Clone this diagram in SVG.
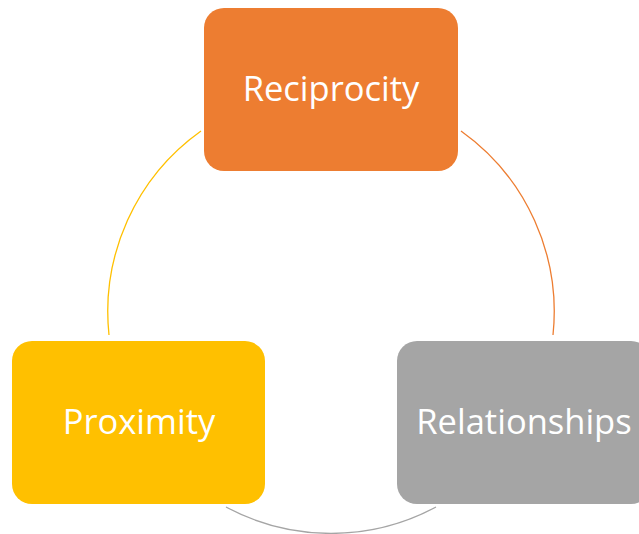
<svg xmlns="http://www.w3.org/2000/svg" width="639" height="534" viewBox="0 0 639 534">
<style>
.lbl{font-family:"Open Sans","Liberation Sans",sans-serif;font-size:34.5px;fill:#ffffff;text-anchor:middle}
.arc{fill:none;stroke-width:1.3}
</style>
<rect width="639" height="534" fill="#ffffff"/>
<g id="connectors">
<path class="arc" stroke="#ED7D31" d="M461,131 A222,222 0 0 1 553,335"/>
<path class="arc" stroke="#A5A5A5" d="M436,507 A222,222 0 0 1 226,507"/>
<path class="arc" stroke="#FFC000" d="M109,335 A222,222 0 0 1 201,131"/>
</g>
<g id="reciprocity">
<rect x="204" y="8" width="254" height="163" rx="20" fill="#ED7D31"/>
<text class="lbl" x="331" y="101">Reciprocity</text>
</g>
<g id="relationships">
<rect x="397" y="341" width="254" height="163" rx="20" fill="#A5A5A5"/>
<text class="lbl" x="524" y="434">Relationships</text>
</g>
<g id="proximity">
<rect x="12" y="341" width="253" height="163" rx="20" fill="#FFC000"/>
<text class="lbl" x="139" y="434">Proximity</text>
</g>
</svg>
